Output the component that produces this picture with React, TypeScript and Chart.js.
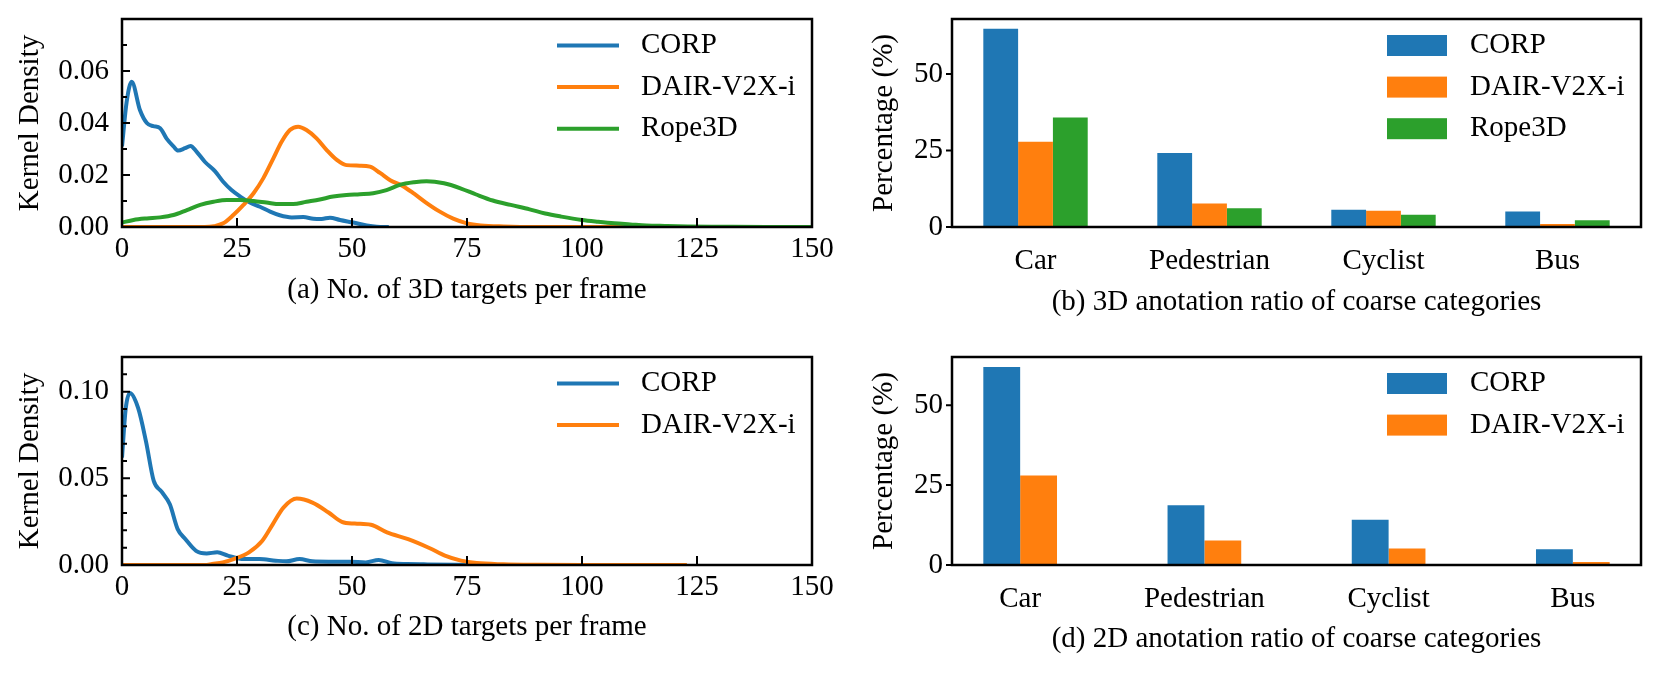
import React, { useEffect, useRef } from 'react';
import { Chart, registerables } from 'chart.js';

Chart.register(...registerables);

// ---------------- data ----------------
const kdeXTicks = [0, 25, 50, 75, 100, 125, 150];
const density3dTicks = [0, 0.02, 0.04, 0.06];
const density3dMinor = [0.01, 0.03, 0.05, 0.07];
const density2dTicks = [0, 0.05, 0.1];
const density2dMinor = [0.01, 0.02, 0.03, 0.04, 0.06, 0.07, 0.08, 0.09, 0.11];
const pctTicks = [0, 25, 50];

// (a) 3D targets per frame – kernel density
const corp3dX = [0, 1, 2.1, 3.9, 5.4, 6.8, 8.3, 9.7, 11.2, 12.2, 13.7, 14.9, 16.2, 18.0, 20.2, 22.0, 23.8, 25.7, 27.8, 30, 32.2, 34.3, 36.9, 39.4, 41.6, 43.4, 45.2, 47.4, 50.3, 53.2, 55.4, 58];
const corp3dY = [0.031, 0.048, 0.0559, 0.045, 0.040, 0.0388, 0.038, 0.034, 0.031, 0.0294, 0.0303, 0.0312, 0.029, 0.0251, 0.0215, 0.0174, 0.0142, 0.0117, 0.0094, 0.0078, 0.0059, 0.0045, 0.0037, 0.0038, 0.0032, 0.0031, 0.0036, 0.0027, 0.0017, 0.0006, 0.0001, 0];
const dair3dX = [0, 10, 18, 20, 22, 24.2, 26.4, 28.6, 30.7, 32.9, 34.7, 36.5, 38.3, 40.1, 42.3, 44.5, 46.7, 48.8, 51.7, 53.9, 56.1, 58.3, 61, 63.5, 66, 69, 72, 75, 78, 83, 90, 100, 110];
const dair3dY = [0, 0, 0, 0.0003, 0.0014, 0.0046, 0.0085, 0.013, 0.0187, 0.0264, 0.0328, 0.0373, 0.0386, 0.0373, 0.0341, 0.0296, 0.0258, 0.0238, 0.0236, 0.0232, 0.0208, 0.018, 0.0158, 0.0128, 0.0095, 0.006, 0.0032, 0.0014, 0.0006, 0.0002, 0, 0, 0];
const rope3dX = [0, 2.5, 5.4, 8.3, 11.2, 14.1, 17, 19.9, 22.8, 25.7, 28.6, 31.4, 34.3, 37.2, 40.1, 43, 45.9, 48.8, 51.7, 54.6, 57.5, 60.4, 63.5, 66.2, 70, 73.7, 77, 80.6, 84.5, 88.6, 92, 95.5, 100, 103.5, 107, 110.5, 114, 118, 123, 130, 140, 150];
const rope3dY = [0.0017, 0.0027, 0.0033, 0.0037, 0.0046, 0.0065, 0.0085, 0.0097, 0.0104, 0.0104, 0.01, 0.0094, 0.0088, 0.0088, 0.0097, 0.0106, 0.0117, 0.0123, 0.0126, 0.013, 0.0142, 0.0162, 0.0172, 0.0176, 0.0168, 0.0148, 0.0125, 0.0102, 0.0085, 0.0068, 0.0052, 0.004, 0.0027, 0.002, 0.0014, 0.001, 0.0006, 0.0004, 0.0002, 0.0001, 0, 0];

// (c) 2D targets per frame – kernel density
const corp2dX = [0, 0.8, 1.7, 3.5, 5.2, 6.9, 8.6, 10.4, 12.1, 13.8, 16.1, 18.4, 20.7, 23, 26.5, 29.9, 33.4, 35.7, 38.6, 41.4, 44.9, 49.5, 53, 55.8, 58.7, 62, 65.6, 72.5, 80];
const corp2dY = [0.062, 0.09, 0.0992, 0.0906, 0.0715, 0.0485, 0.0423, 0.035, 0.0207, 0.0149, 0.0082, 0.0067, 0.0073, 0.0054, 0.0034, 0.0034, 0.0025, 0.0021, 0.0034, 0.0021, 0.0019, 0.0019, 0.0015, 0.0029, 0.001, 0.0006, 0.0004, 0.0001, 0];
const dair2dX = [0, 10, 18, 19.6, 21.9, 24.7, 27.6, 30.5, 32.8, 35.1, 38, 41.4, 44.9, 47.8, 50.6, 54.1, 57.6, 62.2, 66.8, 70.2, 73.7, 77.1, 82.9, 90, 100, 110, 122.8];
const dair2dY = [0, 0, 0, 0.0006, 0.0015, 0.0038, 0.0073, 0.014, 0.0236, 0.0331, 0.0383, 0.036, 0.0303, 0.0249, 0.0239, 0.0232, 0.0188, 0.0149, 0.0098, 0.0054, 0.0025, 0.0011, 0.0004, 0.0001, 0, 0, 0];

// (b) / (d) annotation ratio of coarse categories (%)
const categories = ['Car', 'Pedestrian', 'Cyclist', 'Bus'];
const corp3dPct = [64.8, 24.2, 5.6, 5.1];
const dair3dPct = [27.9, 7.7, 5.3, 1.0];
const rope3dPct = [35.8, 6.1, 4.0, 2.2];
const corp2dPct = [62.0, 18.7, 14.2, 4.9];
const dair2dPct = [28.0, 7.7, 5.2, 0.9];

// ---------------- style ----------------
const FONT = "'Liberation Serif', 'Times New Roman', Times, serif";
const FS = 29;
const BLUE = '#1f77b4';
const ORANGE = '#ff7f0e';
const GREEN = '#2ca02c';
const LW = 4;

Chart.defaults.font.family = FONT;
Chart.defaults.font.size = FS;
Chart.defaults.color = '#000';

function decorPlugin(o: { xTicks?: number[]; yMajor: number[]; yMinor: number[]; yOut: boolean; legend: 'line' | 'bar' }) {
  return {
    id: 'decor',
    afterDraw(chart: any) {
      const { ctx, chartArea: a, scales } = chart;
      ctx.save();
      ctx.strokeStyle = '#000';
      ctx.lineWidth = 2;
      ctx.beginPath();
      (o.xTicks || []).forEach((v) => {
        const px = scales.x.getPixelForValue(v);
        ctx.moveTo(px, a.bottom);
        ctx.lineTo(px, a.bottom - 9);
      });
      o.yMajor.forEach((v) => {
        const py = scales.y.getPixelForValue(v);
        ctx.moveTo(a.left, py);
        ctx.lineTo(o.yOut ? a.left - 6 : a.left + 8, py);
      });
      o.yMinor.forEach((v) => {
        const py = scales.y.getPixelForValue(v);
        ctx.moveTo(a.left, py);
        ctx.lineTo(a.left + 5, py);
      });
      ctx.stroke();
      ctx.lineWidth = 2.5;
      ctx.strokeRect(a.left, a.top, a.right - a.left, a.bottom - a.top);
      // legend (upper right, inside the axes)
      ctx.font = `${FS}px ${FONT}`;
      ctx.textBaseline = 'middle';
      ctx.textAlign = 'left';
      chart.data.datasets.forEach((ds: any, i: number) => {
        const y = a.top + 26.5 + i * 41.6;
        if (o.legend === 'line') {
          ctx.strokeStyle = ds.borderColor;
          ctx.lineWidth = LW;
          ctx.beginPath();
          ctx.moveTo(a.right - 255, y);
          ctx.lineTo(a.right - 193, y);
          ctx.stroke();
        } else {
          ctx.fillStyle = ds.backgroundColor;
          ctx.fillRect(a.right - 254, y - 10.5, 60, 21);
        }
        ctx.fillStyle = '#000';
        ctx.fillText(ds.label, a.right - 171, y);
      });
      ctx.restore();
    },
  };
}

type Series = { label: string; xs: number[]; ys: number[]; color: string };

function kdeConfig(series: Series[], yMax: number, yMajor: number[], yMinor: number[], xTitle: string, padTop: number, xAxisH: number): any {
  return {
    type: 'line',
    data: {
      datasets: series.map((s, i) => ({
        label: s.label,
        data: s.xs.map((x, j) => ({ x, y: s.ys[j] })),
        borderColor: s.color,
        backgroundColor: s.color,
        borderWidth: LW,
        pointRadius: 0,
        cubicInterpolationMode: 'monotone',
        fill: false,
        order: series.length - i,
      })),
    },
    options: {
      responsive: false,
      animation: false,
      events: [],
      layout: { padding: { top: padTop, right: 33, left: 0, bottom: 0 } },
      plugins: { legend: { display: false }, tooltip: { enabled: false } },
      scales: {
        x: {
          type: 'linear',
          min: 0,
          max: 150,
          afterBuildTicks: (s: any) => { s.ticks = kdeXTicks.map((v) => ({ value: v })); },
          afterFit: (s: any) => { s.height = xAxisH; s.paddingLeft = 0; s.paddingRight = 0; },
          grid: { display: false, drawTicks: false },
          border: { display: false },
          ticks: { padding: 5, maxRotation: 0, autoSkip: false, callback: (v: any) => String(v) },
          title: { display: true, text: xTitle, padding: { top: 0, bottom: 29.6 } },
        },
        y: {
          type: 'linear',
          min: 0,
          max: yMax,
          afterBuildTicks: (s: any) => { s.ticks = yMajor.map((v) => ({ value: v })); },
          afterFit: (s: any) => { s.width = 122; s.paddingTop = 0; s.paddingBottom = 0; },
          grid: { display: false, drawTicks: false },
          border: { display: false },
          ticks: { padding: 13, autoSkip: false, callback: (v: any) => Number(v).toFixed(2) },
          title: { display: true, text: 'Kernel Density', padding: { top: 12.6, bottom: 0 } },
        },
      },
    },
    plugins: [decorPlugin({ xTicks: kdeXTicks, yMajor, yMinor, yOut: false, legend: 'line' })],
  };
}

type BarSeries = { label: string; values: number[]; color: string };

function barConfig(series: BarSeries[], yMax: number, catPct: number, xMin: number, xMax: number, xTitle: string, padTop: number, xAxisH: number): any {
  return {
    type: 'bar',
    data: {
      datasets: series.map((s) => ({
        label: s.label,
        data: s.values.map((v, i) => ({ x: i, y: v })),
        backgroundColor: s.color,
        borderColor: s.color,
        borderWidth: 0,
        categoryPercentage: catPct,
        barPercentage: 1,
      })),
    },
    options: {
      responsive: false,
      animation: false,
      events: [],
      layout: { padding: { top: padTop, right: 19, left: 0, bottom: 0 } },
      plugins: { legend: { display: false }, tooltip: { enabled: false } },
      scales: {
        x: {
          type: 'linear',
          min: xMin,
          max: xMax,
          offset: false,
          afterBuildTicks: (s: any) => { s.ticks = categories.map((_, i) => ({ value: i })); },
          afterFit: (s: any) => { s.height = xAxisH; s.paddingLeft = 0; s.paddingRight = 0; },
          grid: { display: false, drawTicks: false, offset: false },
          border: { display: false },
          ticks: { padding: 17, maxRotation: 0, autoSkip: false, callback: (v: any) => categories[Math.round(Number(v))] ?? '' },
          title: { display: true, text: xTitle, padding: { top: 0, bottom: 17.6 } },
        },
        y: {
          type: 'linear',
          min: 0,
          max: yMax,
          afterBuildTicks: (s: any) => { s.ticks = pctTicks.map((v) => ({ value: v })); },
          afterFit: (s: any) => { s.width = 107; s.paddingTop = 0; s.paddingBottom = 0; },
          grid: { display: false, drawTicks: false },
          border: { display: false },
          ticks: { padding: 9, autoSkip: false, callback: (v: any) => String(v) },
          title: { display: true, text: 'Percentage (%)', padding: { top: 21.6, bottom: 0 } },
        },
      },
    },
    plugins: [decorPlugin({ yMajor: pctTicks, yMinor: [], yOut: true, legend: 'bar' })],
  };
}

function ChartBox(props: { left: number; top: number; width: number; height: number; build: () => any }) {
  const ref = useRef<HTMLCanvasElement | null>(null);
  useEffect(() => {
    const chart = new Chart(ref.current as HTMLCanvasElement, props.build());
    return () => chart.destroy();
  }, []);
  return (
    <canvas
      ref={ref}
      width={props.width}
      height={props.height}
      style={{ position: 'absolute', left: props.left, top: props.top, width: props.width, height: props.height }}
    />
  );
}

export default function App() {
  return (
    <div style={{ position: 'absolute', left: 0, top: 0, width: 1660, height: 674, background: '#fff', overflow: 'hidden' }}>
      <ChartBox
        left={0} top={0} width={845} height={337}
        build={() => kdeConfig(
          [
            { label: 'CORP', xs: corp3dX, ys: corp3dY, color: BLUE },
            { label: 'DAIR-V2X-i', xs: dair3dX, ys: dair3dY, color: ORANGE },
            { label: 'Rope3D', xs: rope3dX, ys: rope3dY, color: GREEN },
          ],
          0.08, density3dTicks, density3dMinor, '(a) No. of 3D targets per frame', 19, 110)}
      />
      <ChartBox
        left={845} top={0} width={815} height={337}
        build={() => barConfig(
          [
            { label: 'CORP', values: corp3dPct, color: BLUE },
            { label: 'DAIR-V2X-i', values: dair3dPct, color: ORANGE },
            { label: 'Rope3D', values: rope3dPct, color: GREEN },
          ],
          68, 0.6, -0.48, 3.48, '(b) 3D anotation ratio of coarse categories', 19, 110)}
      />
      <ChartBox
        left={0} top={337} width={845} height={337}
        build={() => kdeConfig(
          [
            { label: 'CORP', xs: corp2dX, ys: corp2dY, color: BLUE },
            { label: 'DAIR-V2X-i', xs: dair2dX, ys: dair2dY, color: ORANGE },
          ],
          0.12, density2dTicks, density2dMinor, '(c) No. of 2D targets per frame', 20, 109)}
      />
      <ChartBox
        left={845} top={337} width={815} height={337}
        build={() => barConfig(
          [
            { label: 'CORP', values: corp2dPct, color: BLUE },
            { label: 'DAIR-V2X-i', values: dair2dPct, color: ORANGE },
          ],
          65.1, 0.4, -0.37, 3.37, '(d) 2D anotation ratio of coarse categories', 20, 109)}
      />
    </div>
  );
}
